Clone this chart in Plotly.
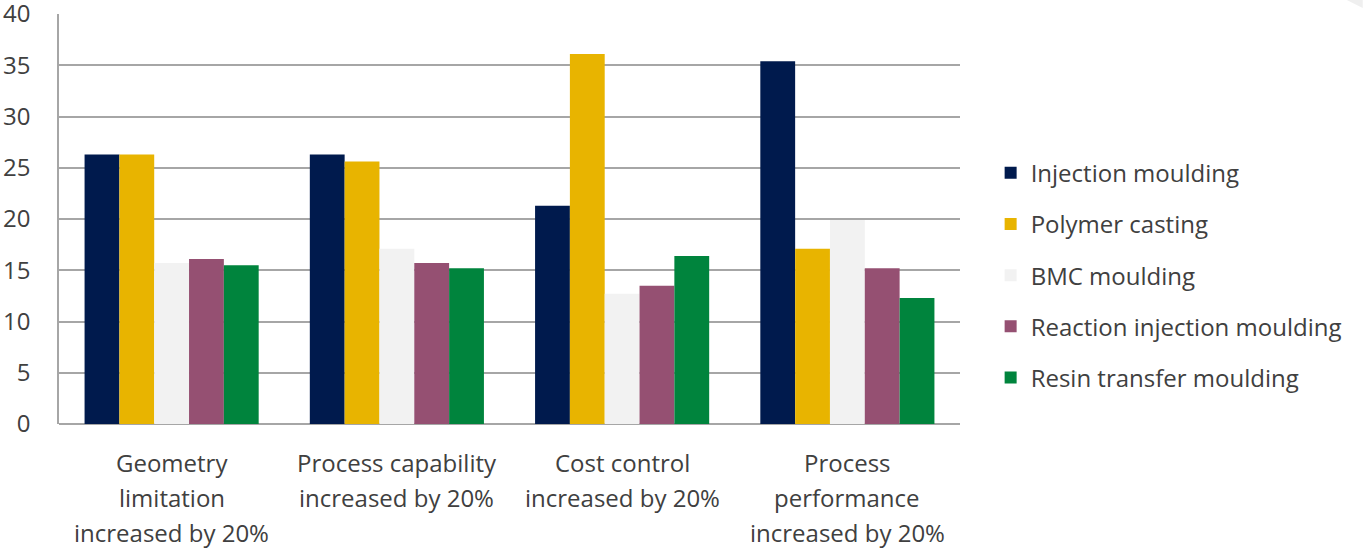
import plotly.graph_objects as go

categories = ["Geometry limitation increased by 20%",
              "Process capability increased by 20%",
              "Cost control increased by 20%",
              "Process performance increased by 20%"]
category_lines = [["Geometry", "limitation", "increased by 20%"],
                  ["Process capability", "increased by 20%"],
                  ["Cost control", "increased by 20%"],
                  ["Process", "performance", "increased by 20%"]]
series_names = ["Injection moulding", "Polymer casting", "BMC moulding",
                "Reaction injection moulding", "Resin transfer moulding"]
injection = [26.3, 26.3, 21.3, 35.4]
polymer = [26.3, 25.6, 36.1, 17.1]
bmc = [15.7, 17.1, 12.7, 19.9]
reaction = [16.1, 15.7, 13.5, 15.2]
resin = [15.5, 15.2, 16.4, 12.3]
y_ticks = [0, 5, 10, 15, 20, 25, 30, 35, 40]

series_values = [injection, polymer, bmc, reaction, resin]
colors = ["#001A4D", "#E8B400", "#F2F2F2", "#955072", "#00843D"]

FONT = "Open Sans"
TXT = "#404040"
FS = 24

fig = go.Figure()
for i, (name, vals, col) in enumerate(zip(series_names, series_values, colors)):
    fig.add_trace(go.Bar(x=categories, y=vals, name=name, marker_color=col,
                         marker_line_width=0, legendgroup=f"g{i}"))

for cat, lines in zip(categories, category_lines):
    for j, line in enumerate(lines):
        fig.add_annotation(x=cat, xref="x", y=0, yref="paper", yanchor="middle",
                           yshift=-38 - 35 * j, text=line, showarrow=False,
                           font=dict(family=FONT, size=FS, color=TXT))

# faint corner decoration (top-right)
fig.add_shape(type="path", xref="paper", yref="paper",
              path="M 1.4293 1.0341 L 1.4470 1.0341 L 1.4470 1.0146 Z",
              fillcolor="#EFEFEF", line_width=0, layer="below")

fig.update_layout(
    width=1363, height=548,
    margin=dict(l=59, r=403, t=14, b=124, autoexpand=False),
    paper_bgcolor="white", plot_bgcolor="white",
    barmode="group", bargap=0.227, bargroupgap=0,
    font=dict(family=FONT, size=FS, color=TXT),
    showlegend=True,
    legend=dict(x=1.034, xanchor="left", y=0.363, yanchor="middle",
                font=dict(family=FONT, size=FS, color=TXT),
                tracegroupgap=17, itemwidth=30),
    xaxis=dict(showticklabels=False, showline=False, showgrid=False,
               ticks="", automargin=False),
    yaxis=dict(range=[0, 40], tickvals=y_ticks, showgrid=True,
               gridcolor="#A6A6A6", gridwidth=1.5, showline=True,
               linecolor="#A6A6A6", linewidth=1.5, zeroline=True,
               zerolinecolor="#A6A6A6", zerolinewidth=1.5,
               ticks="", ticklabelstandoff=22, automargin=False,
               ticklabeloverflow="allow",
               tickfont=dict(family=FONT, size=FS, color=TXT)),
)

fig.write_html("out.html")
